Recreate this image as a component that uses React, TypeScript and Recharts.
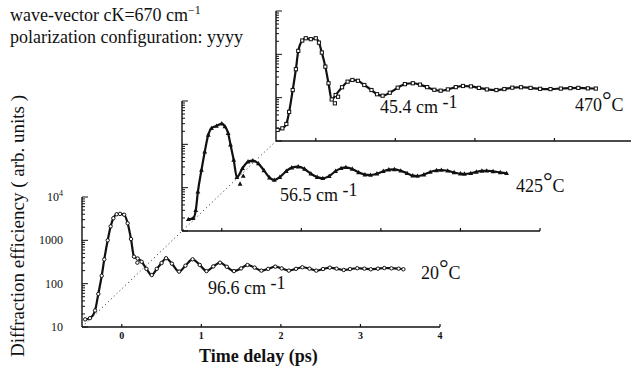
import React from 'react';
import { ComposedChart, Line, XAxis, YAxis, ReferenceLine } from 'recharts';

// time delay (ps) / diffraction efficiency (arb. units)
const trace20C = [
  { t: -0.46, v: 15 }, { t: -0.4, v: 16 }, { t: -0.336, v: 24 }, { t: -0.295, v: 58 },
  { t: -0.252, v: 152 }, { t: -0.22, v: 363 }, { t: -0.177, v: 1000 }, { t: -0.14, v: 2100 },
  { t: -0.106, v: 3240 }, { t: -0.064, v: 4000 }, { t: -0.022, v: 4080 }, { t: 0.03, v: 3900 },
  { t: 0.074, v: 2470 }, { t: 0.116, v: 1070 }, { t: 0.154, v: 420 }, { t: 0.2, v: 380 },
  { t: 0.25, v: 320 }, { t: 0.31, v: 220 }, { t: 0.377, v: 158 }, { t: 0.44, v: 220 },
  { t: 0.5, v: 300 }, { t: 0.557, v: 386 }, { t: 0.63, v: 290 }, { t: 0.72, v: 190 },
  { t: 0.8, v: 260 }, { t: 0.89, v: 365 }, { t: 0.98, v: 270 }, { t: 1.065, v: 195 },
  { t: 1.15, v: 250 }, { t: 1.235, v: 305 }, { t: 1.32, v: 245 }, { t: 1.41, v: 195 },
  { t: 1.5, v: 225 }, { t: 1.58, v: 270 }, { t: 1.67, v: 235 }, { t: 1.755, v: 200 },
  { t: 1.84, v: 220 }, { t: 1.93, v: 247 }, { t: 2.01, v: 225 }, { t: 2.1, v: 200 },
  { t: 2.19, v: 220 }, { t: 2.27, v: 239 }, { t: 2.36, v: 222 }, { t: 2.445, v: 200 },
  { t: 2.53, v: 218 }, { t: 2.615, v: 234 }, { t: 2.7, v: 222 }, { t: 2.79, v: 207 },
  { t: 2.87, v: 217 }, { t: 2.96, v: 227 }, { t: 3.05, v: 222 }, { t: 3.13, v: 215 },
  { t: 3.22, v: 222 }, { t: 3.3, v: 230 }, { t: 3.39, v: 226 }, { t: 3.48, v: 222 },
  { t: 3.54, v: 215 },
];

const trace425C = [
  { t: -0.42, v: 18.6 }, { t: -0.36, v: 19.7 }, { t: -0.327, v: 30 }, { t: -0.3, v: 81 },
  { t: -0.255, v: 256 }, { t: -0.214, v: 676 }, { t: -0.17, v: 1650 }, { t: -0.13, v: 2350 },
  { t: -0.067, v: 2650 }, { t: 0, v: 3000 }, { t: 0.04, v: 2570 }, { t: 0.08, v: 1810 },
  { t: 0.11, v: 975 }, { t: 0.15, v: 437 }, { t: 0.19, v: 174 }, { t: 0.26, v: 280 },
  { t: 0.33, v: 398 }, { t: 0.39, v: 420 }, { t: 0.46, v: 360 }, { t: 0.53, v: 250 },
  { t: 0.6, v: 170 }, { t: 0.66, v: 150 }, { t: 0.73, v: 175 }, { t: 0.81, v: 240 },
  { t: 0.88, v: 290 }, { t: 0.96, v: 305 }, { t: 1.04, v: 270 }, { t: 1.12, v: 210 },
  { t: 1.2, v: 175 }, { t: 1.27, v: 165 }, { t: 1.35, v: 185 }, { t: 1.43, v: 240 },
  { t: 1.5, v: 280 }, { t: 1.56, v: 295 }, { t: 1.64, v: 270 }, { t: 1.72, v: 225 },
  { t: 1.8, v: 200 }, { t: 1.87, v: 196 }, { t: 1.95, v: 210 }, { t: 2.03, v: 240 },
  { t: 2.1, v: 260 }, { t: 2.17, v: 265 }, { t: 2.25, v: 245 }, { t: 2.33, v: 215 },
  { t: 2.4, v: 190 }, { t: 2.46, v: 186 }, { t: 2.54, v: 200 }, { t: 2.62, v: 230 },
  { t: 2.7, v: 250 }, { t: 2.76, v: 256 }, { t: 2.84, v: 245 }, { t: 2.92, v: 225 },
  { t: 3.0, v: 210 }, { t: 3.05, v: 207 }, { t: 3.13, v: 215 }, { t: 3.2, v: 232 },
  { t: 3.27, v: 244 }, { t: 3.33, v: 246 }, { t: 3.41, v: 238 }, { t: 3.5, v: 225 },
  { t: 3.58, v: 215 },
];

const trace470C = [
  { t: -0.48, v: 18 }, { t: -0.42, v: 19.6 }, { t: -0.37, v: 24.7 }, { t: -0.335, v: 47 },
  { t: -0.29, v: 150 }, { t: -0.25, v: 453 }, { t: -0.22, v: 1200 }, { t: -0.17, v: 2080 },
  { t: -0.126, v: 2350 }, { t: -0.063, v: 2240 }, { t: 0, v: 2350 }, { t: 0.04, v: 1860 },
  { t: 0.076, v: 1100 }, { t: 0.12, v: 520 }, { t: 0.16, v: 215 }, { t: 0.2, v: 91 },
  { t: 0.25, v: 115 }, { t: 0.33, v: 174 }, { t: 0.4, v: 234 }, { t: 0.46, v: 256 },
  { t: 0.53, v: 245 }, { t: 0.61, v: 196 }, { t: 0.7, v: 150 }, { t: 0.77, v: 120 },
  { t: 0.84, v: 111 }, { t: 0.93, v: 130 }, { t: 1.03, v: 170 }, { t: 1.12, v: 205 },
  { t: 1.22, v: 215 }, { t: 1.31, v: 200 }, { t: 1.4, v: 175 }, { t: 1.49, v: 152 },
  { t: 1.57, v: 145 }, { t: 1.66, v: 155 }, { t: 1.76, v: 175 }, { t: 1.85, v: 186 },
  { t: 1.95, v: 182 }, { t: 2.05, v: 168 }, { t: 2.15, v: 155 }, { t: 2.27, v: 150 },
  { t: 2.37, v: 158 }, { t: 2.47, v: 170 }, { t: 2.58, v: 174 }, { t: 2.7, v: 168 },
  { t: 2.82, v: 160 }, { t: 2.95, v: 158 }, { t: 3.08, v: 162 }, { t: 3.2, v: 166 },
  { t: 3.3, v: 168 }, { t: 3.42, v: 164 }, { t: 3.52, v: 162 },
];

// measured points that sit off the fitted curve
const marks20C = [{ t: 0.196, v: 305 }];
const marks425C = [{ t: 0.23, v: 122 }, { t: 0.27, v: 186 }];
const marks470C = [{ t: 0.24, v: 74 }, { t: 0.28, v: 105 }];

const timeTicks = [0, 1, 2, 3, 4];
const decadeTicks = [10, 100, 1000, 10000];
const logTicks = [
  10, 20, 30, 40, 50, 60, 70, 80, 90,
  100, 200, 300, 400, 500, 600, 700, 800, 900,
  1000, 2000, 3000, 4000, 5000, 6000, 7000, 8000, 9000,
  10000,
];
const decadeLabels = ['10', '100', '1000', '10^4'];

// dotted guide: front origin to the back panel origin (in front panel units)
const guideLine = [{ x: -0.5, y: 10 }, { x: 1.94, y: 197000 }];

const W = 640;
const H = 368;
const PW = 358;
const PH = 130;
const ink = '#111';
const serif = 'Liberation Serif';

const YTick = ({ x, y, payload, labelled }: any) => {
  const major = decadeTicks.includes(payload.value);
  const idx = decadeTicks.indexOf(payload.value);
  const lab = idx >= 0 ? decadeLabels[idx] : '';
  return (
    <g>
      <line x1={x} x2={x + (major ? 6 : 3)} y1={y} y2={y} stroke={ink} strokeWidth={1} />
      {labelled && major && (
        <text x={x - 19} y={y + 4} textAnchor="end" fontFamily={serif} fontSize={12} fill={ink}>
          {lab.startsWith('10^') ? (
            <>
              10<tspan dy={-5} fontSize={8}>4</tspan>
            </>
          ) : (
            lab
          )}
        </text>
      )}
    </g>
  );
};

const XTick = ({ x, y, payload, labelled }: any) => (
  <g>
    <line x1={x} x2={x} y1={y} y2={y - 3} stroke={ink} strokeWidth={1.2} />
    {labelled && (
      <text x={x} y={y + 12} textAnchor="middle" fontFamily={serif} fontWeight="bold" fontSize={10} fill={ink}>
        {payload.value}
      </text>
    )}
  </g>
);

const circleDot = (p: any) => (
  <circle key={`c${p.index}`} cx={p.cx} cy={p.cy} r={1.7} fill="#fff" stroke={ink} strokeWidth={1} />
);
const triangleDot = (p: any) => (
  <path
    key={`t${p.index}`}
    d={`M${p.cx},${p.cy - 2.6}L${p.cx + 2.4},${p.cy + 1.8}L${p.cx - 2.4},${p.cy + 1.8}Z`}
    fill={ink}
  />
);
const squareDot = (p: any) => (
  <rect key={`s${p.index}`} x={p.cx - 1.6} y={p.cy - 1.6} width={3.2} height={3.2} fill="#fff" stroke={ink} strokeWidth={1} />
);

function Panel({ data, marks, left, top, dot, labelled, guide }: any) {
  return (
    <div style={{ position: 'absolute', left: 0, top: 0 }}>
      <ComposedChart
        width={W}
        height={H}
        margin={{ left: left - 1, top, right: W - left - PW, bottom: H - top - PH - 1 }}
        style={{ overflow: 'visible' }}
      >
        <XAxis
          dataKey="t"
          type="number"
          domain={[-0.5, 4]}
          ticks={timeTicks}
          interval={0}
          height={1}
          tickSize={0}
          tickMargin={0}
          tickLine={false}
          axisLine={{ stroke: ink, strokeWidth: 1.4 }}
          tick={<XTick labelled={labelled} />}
          allowDataOverflow
        />
        <YAxis
          type="number"
          scale="log"
          domain={[10, 10000]}
          ticks={logTicks}
          interval={0}
          width={1}
          tickSize={0}
          tickMargin={0}
          tickLine={false}
          axisLine={{ stroke: ink, strokeWidth: 1.4 }}
          tick={<YTick labelled={labelled} />}
          allowDataOverflow
        />
        {guide && (
          <ReferenceLine
            segment={guideLine}
            ifOverflow="visible"
            stroke="#222"
            strokeWidth={1}
            strokeDasharray="1 3"
          />
        )}
        <Line
          data={data}
          dataKey="v"
          type="monotone"
          stroke={ink}
          strokeWidth={2.2}
          dot={dot}
          activeDot={false}
          isAnimationActive={false}
        />
        <Line
          data={marks}
          dataKey="v"
          stroke="none"
          dot={dot}
          activeDot={false}
          isAnimationActive={false}
        />
      </ComposedChart>
    </div>
  );
}

// number, raised degree ring, then C
const Temp = ({ x, y, num }: { x: number; y: number; num: string }) => (
  <text x={x} y={y} fontFamily={serif} fontSize={18} fill={ink}>
    {num}
    <tspan fontSize={24} dy={-3}>°</tspan>
    <tspan fontSize={18} dy={3}>C</tspan>
  </text>
);

function Annotations() {
  const f = { fontFamily: serif, fill: ink };
  return (
    <svg width={631} height={368} style={{ position: 'absolute', left: 0, top: 0 }}>
      <text x={10} y={21} fontSize={18} {...f}>
        wave-vector cK=670 cm<tspan dy={-7} fontSize={12}>−1</tspan>
      </text>
      <text x={10} y={43} fontSize={18} {...f}>
        polarization configuration:  yyyy
      </text>
      <text x={0} y={0} fontSize={19} textAnchor="middle" transform="translate(24 226) rotate(-90)" {...f}>
        Diffraction efficiency ( arb. units )
      </text>
      <text x={199} y={362} fontSize={18} fontWeight="bold" {...f}>
        Time delay (ps)
      </text>
      <text x={208} y={294} fontSize={18} {...f}>
        96.6 cm <tspan dy={-5}>-1</tspan>
      </text>
      <text x={280} y={201} fontSize={18} {...f}>
        56.5 cm <tspan dy={-5}>-1</tspan>
      </text>
      <text x={380} y={113} fontSize={18} {...f}>
        45.4 cm <tspan dy={-5}>-1</tspan>
      </text>
      <Temp x={421} y={279} num="20" />
      <Temp x={516} y={192} num="425" />
      <Temp x={575} y={111} num="470" />
    </svg>
  );
}

export default function App() {
  return (
    <div
      style={{
        position: 'absolute',
        left: 0,
        top: 0,
        width: 631,
        height: 368,
        overflow: 'hidden',
        background: '#fff',
      }}
    >
      <Panel data={trace20C} marks={marks20C} left={82} top={197} dot={circleDot} labelled guide />
      <Panel data={trace425C} marks={marks425C} left={182} top={101} dot={triangleDot} />
      <Panel data={trace470C} marks={marks470C} left={276} top={11} dot={squareDot} />
      <Annotations />
    </div>
  );
}
